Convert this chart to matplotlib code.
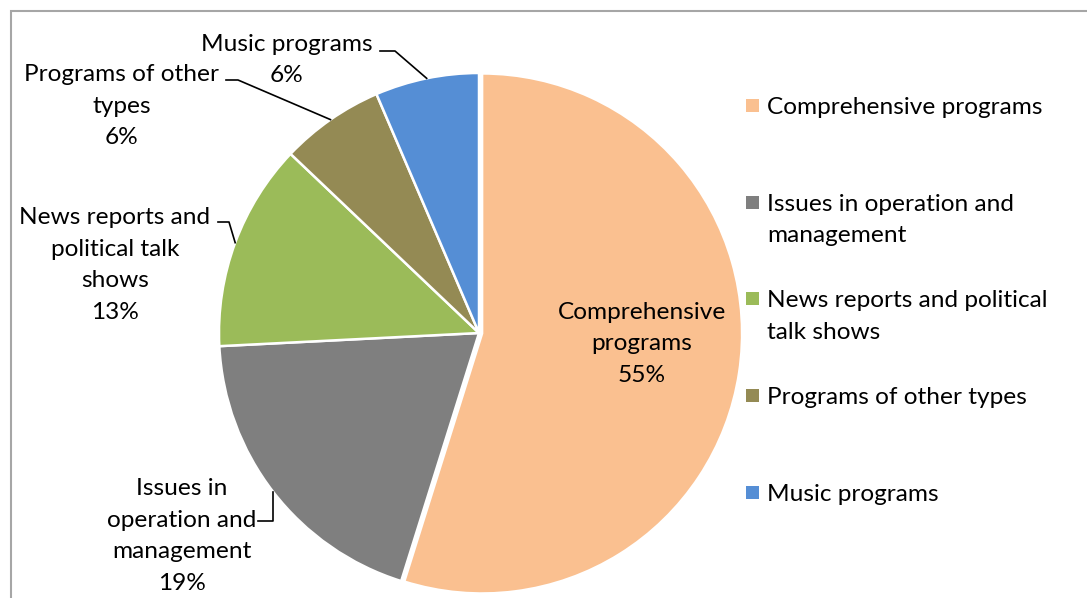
import numpy as np
import matplotlib.pyplot as plt
from matplotlib.patches import Rectangle

# Programme categories and number of cases in each
categories = ["Comprehensive programs", "Issues in operation and management",
              "News reports and political talk shows", "Programs of other types",
              "Music programs"]
counts = [17, 6, 4, 2, 2]

# wrapped text used on the pie labels and in the legend
slice_names = ["Comprehensive\nprograms", "Issues in\noperation and\nmanagement",
               "News reports and\npolitical talk\nshows", "Programs of other\ntypes",
               "Music programs"]
legend_names = ["Comprehensive programs", "Issues in operation and\nmanagement",
                "News reports and political\ntalk shows", "Programs of other types",
                "Music programs"]
colors = ["#FAC090", "#7F7F7F", "#9BBB59", "#948A54", "#558ED5"]

W, H = 1087, 598
CX, CY, R = 479, 333, 260
FONT = "Lato"
FS = 17.6
LS = 1.62


def px(x, y):
    """pixel position -> data coords (pie centre at 0,0, radius 1)"""
    return (x - CX) / R, (CY - y) / R


fig = plt.figure(figsize=(W / 100, H / 100), dpi=100)
ax = fig.add_axes([0, 0, 1, 1])

wedges, _ = ax.pie(counts, colors=colors, startangle=90, counterclock=False,
                   radius=1, explode=[0.012, 0, 0, 0, 0],
                   wedgeprops=dict(edgecolor="white", linewidth=1.8))

x0, y1 = px(0, 0)
x1, y0 = px(W, H)
ax.set_xlim(x0, x1)
ax.set_ylim(y0, y1)
ax.set_aspect("equal")
ax.axis("off")

# chart area border (only top and left visible)
fx, fy = px(11, 11)
ax.plot([fx, fx, x1 + 1], [y0 - 1, fy, fy], color="#A6A6A6", lw=1.5,
        clip_on=False, solid_joinstyle="miter")

total = sum(counts)
pcts = [f"{100 * c / total:.0f}%" for c in counts]

# outside labels: text centre, elbow start, elbow end
outside = {
    1: ((182, 536), (258, 521), (273, 521)),
    2: ((115, 265), (218, 222), (229, 222)),
    3: ((122, 106), (226, 80), (238, 80)),
    4: ((287, 60), (380, 51), (395, 51)),
}

for i, w in enumerate(wedges):
    mid = np.deg2rad((w.theta1 + w.theta2) / 2)
    ex, ey = np.cos(mid), np.sin(mid)
    label = f"{slice_names[i]}\n{pcts[i]}"
    if i == 0:
        tx, ty = px(642, 344)
        ax.text(tx, ty, label, ha="center", va="center", fontsize=FS,
                family=FONT, linespacing=LS)
        continue
    (lx, ly), a, b = outside[i]
    tx, ty = px(lx, ly)
    ax.text(tx, ty, label, ha="center", va="center", fontsize=FS,
            family=FONT, linespacing=LS)
    ax_, ay_ = px(*a)
    bx_, by_ = px(*b)
    if i == 1:
        # vertical drop down to the elbow
        ax.plot([ax_, bx_, bx_], [ay_, by_, ey], color="black", lw=1.2)
    else:
        ax.plot([ax_, bx_, ex], [ay_, by_, ey], color="black", lw=1.2)

# legend on the right, one slot per entry
for i, name in enumerate(legend_names):
    yc = 106 + i * 96.7
    mx, my = px(746, yc + 6)
    ax.add_patch(Rectangle((mx, my), 13 / R, 13 / R,
                           facecolor=colors[i], edgecolor="none"))
    tx, ty = px(767, yc - 9)
    ax.text(tx, ty, name, ha="left", va="top", fontsize=FS, family=FONT,
            linespacing=LS)

fig.savefig("out.png", dpi=100)
